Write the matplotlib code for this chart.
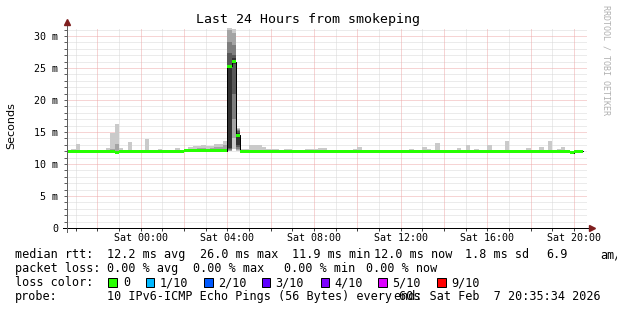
import numpy as np
import matplotlib
matplotlib.use('Agg')
import matplotlib.pyplot as plt
from matplotlib.patches import Rectangle

W, H = 617, 310
MONO = 'DejaVu Sans Mono'

# ---------------- data ----------------
# time axis in hours since graph start (Fri 20:35:34); 12-minute RRA bins
first_bin_h = 26 / 3600.0          # first bin starts 20:36:00
bin_w_h = 0.2                      # 12 minutes
first_hour_h = (24 * 60 + 26) / 3600.0   # 21:00 Fri
x_labels = ['Sat 00:00', 'Sat 04:00', 'Sat 08:00', 'Sat 12:00', 'Sat 16:00', 'Sat 20:00']
y_ticks_ms = [0, 5, 10, 15, 20, 25, 30]
y_labels = ['0', '5 m', '10 m', '15 m', '20 m', '25 m', '30 m']

median_ms = [
    12.0, 12.0, 12.0, 12.0, 12.0, 12.0, 12.0, 12.0, 12.0, 12.0,
    12.0, 11.8, 12.0, 12.0, 12.0, 12.0, 12.0, 12.0, 12.0, 12.0,
    12.0, 12.0, 12.0, 12.0, 12.0, 12.0, 12.0, 12.1, 12.1, 12.1,
    12.1, 12.1, 12.1, 12.1, 12.1, 12.1, 12.1, 25.3, 26.0, 14.5,
    12.0, 12.0, 12.0, 12.0, 12.0, 12.0, 12.0, 12.0, 12.0, 12.0,
    12.0, 12.0, 12.0, 12.0, 12.0, 12.0, 12.0, 12.0, 12.0, 12.0,
    12.0, 12.0, 12.0, 12.0, 12.0, 12.0, 12.0, 12.0, 12.0, 12.0,
    12.0, 12.0, 12.0, 12.0, 12.0, 12.0, 12.0, 12.0, 12.0, 12.0,
    12.0, 12.0, 12.0, 12.0, 12.0, 12.0, 12.0, 12.0, 12.0, 12.0,
    12.0, 12.0, 12.0, 12.0, 12.0, 12.0, 12.0, 12.0, 12.0, 12.0,
    12.0, 12.0, 12.0, 12.0, 12.0, 12.0, 12.0, 12.0, 12.0, 12.0,
    12.0, 12.0, 12.0, 12.0, 12.0, 12.0, 11.75, 12.0, 12.0, np.nan,
]

smoke_max_ms = [
    12.2, 12.3, 13.1, 12.2, 12.2, 12.2, 12.2, 12.2, 12.2, 12.5,
    14.9, 16.25, 12.5, 12.2, 13.4, 12.2, 12.2, 12.2, 13.9, 12.2,
    12.2, 12.3, 12.2, 12.2, 12.2, 12.5, 12.2, 12.3, 12.7, 12.8,
    12.8, 13.0, 12.8, 12.8, 13.1, 13.1, 13.6, 33.0, 31.1, 15.7,
    12.3, 12.3, 13.0, 13.0, 13.0, 12.7, 12.3, 12.3, 12.3, 12.2,
    12.3, 12.3, 12.2, 12.2, 12.2, 12.3, 12.3, 12.3, 12.5, 12.5,
    12.2, 12.2, 12.2, 12.2, 12.2, 12.2, 12.3, 12.7, 12.2, 12.2,
    12.2, 12.1, 12.1, 12.2, 12.2, 12.1, 12.1, 12.2, 12.2, 12.3,
    12.2, 12.2, 12.7, 12.3, 12.2, 13.3, 12.2, 12.2, 12.2, 12.2,
    12.5, 12.2, 13.0, 12.2, 12.3, 12.2, 12.2, 12.9, 12.1, 12.2,
    12.2, 13.6, 12.2, 12.2, 12.1, 12.2, 12.5, 12.2, 12.2, 12.7,
    12.2, 13.6, 12.2, 12.3, 12.7, 12.2, 12.0, 12.2, 12.2, np.nan,
]

smoke_min_ms = [
    11.9, 11.9, 11.9, 11.9, 11.9, 11.9, 11.9, 11.9, 11.9, 11.9,
    11.9, 11.6, 11.9, 11.9, 11.9, 11.9, 11.9, 11.9, 11.9, 11.9,
    11.9, 11.9, 11.9, 11.9, 11.9, 11.9, 11.9, 11.9, 11.9, 11.9,
    11.9, 11.9, 11.9, 11.9, 11.9, 11.9, 11.9, 12.0, 12.3, 12.0,
    11.9, 11.9, 11.9, 11.9, 11.9, 11.9, 11.9, 11.9, 11.9, 11.9,
    11.9, 11.9, 11.9, 11.9, 11.9, 11.9, 11.9, 11.9, 11.9, 11.9,
    11.9, 11.9, 11.9, 11.9, 11.9, 11.9, 11.9, 11.9, 11.9, 11.9,
    11.9, 11.9, 11.9, 11.9, 11.9, 11.9, 11.9, 11.9, 11.9, 11.9,
    11.9, 11.9, 11.9, 11.9, 11.9, 11.9, 11.9, 11.9, 11.9, 11.9,
    11.9, 11.9, 11.9, 11.9, 11.9, 11.9, 11.9, 11.9, 11.9, 11.9,
    11.9, 11.9, 11.9, 11.9, 11.9, 11.9, 11.9, 11.9, 11.9, 11.9,
    11.9, 11.9, 11.9, 11.9, 11.9, 11.9, 11.5, 11.9, 11.9, np.nan,
]

# second smoke layer (ping 2 .. ping 9) where it is visible
smoke_layer2_ms = {
    10: (11.9, 12.3), 11: (11.7, 13.1), 29: (12.0, 12.4), 30: (12.0, 12.5),
    31: (12.0, 12.5), 32: (12.0, 12.4), 33: (12.0, 12.5), 34: (12.0, 12.7),
    35: (12.0, 12.7), 36: (12.0, 12.9), 116: (11.6, 12.0),
}

# all ten sorted pings for the latency spike around 04:00
spike_pings_ms = {
    37: [12.0, 12.1, 12.2, 12.3, 12.5, 25.5, 27.3, 29.1, 30.9, 33.0],
    38: [12.3, 14.0, 17.0, 21.0, 25.6, 26.6, 27.0, 28.6, 30.5, 31.1],
    39: [12.0, 12.2, 12.4, 12.6, 13.0, 14.8, 15.1, 15.3, 15.5, 15.7],
}

legend_rtt = [('median rtt:', 15), ('12.2 ms avg', 107), ('26.0 ms max', 200.5),
              ('11.9 ms min', 292.5), ('12.0 ms now', 374.5), ('1.8 ms sd', 465),
              ('6.9', 546), ('am/s', 600)]
legend_loss = [('packet loss:', 15), ('0.00 % avg', 107), ('0.00 % max', 193),
               ('0.00 % min', 284), ('0.00 % now', 366)]
loss_labels = ['0', '1/10', '2/10', '3/10', '4/10', '5/10', '9/10']
loss_colors = ['#26ff00', '#00b8ff', '#0059ff', '#5e00ff', '#7e00ff', '#dd00ff', '#ff0000']
loss_box_x = [108.3, 145.7, 204, 261.8, 320.9, 378, 437]
loss_label_x = [122.8, 159.4, 217.7, 275.6, 333.9, 391.7, 450.8]

smoke_shades = ['#cacaca', '#a4a4a4', '#7e7e7e', '#585858', '#323232']
# --------------------------------------

fig = plt.figure(figsize=(W / 100, H / 100), dpi=100)
fig.patch.set_facecolor('white')
ax = fig.add_axes([67 / W, (H - 228) / H, 520 / W, 200 / H])
ax.set_facecolor('white')
ax.set_xlim(0, 24)
ymax = 31.25
ax.set_ylim(0, ymax)
for s in ax.spines.values():
    s.set_visible(False)

px = 0.72  # one pixel in points
LEG = 8.45
# grid
hours = first_hour_h + np.arange(24)
for k, h in enumerate(hours):
    major = (k % 2 == 1)
    ax.axvline(h, color='#eeaaaa' if major else '#d8d8d8', lw=px,
               ls=(0, (1, 1)), zorder=0.5 if major else 0.4)
for v in range(1, 32):
    major = (v % 5 == 0)
    ax.axhline(v, color='#eeaaaa' if major else '#d8d8d8', lw=px,
               ls=(0, (1, 1)), zorder=0.5 if major else 0.4)

n = len(median_ms)
left = first_bin_h + np.arange(n) * bin_w_h
med = np.array(median_ms, dtype=float)
smax = np.array(smoke_max_ms, dtype=float)
smin = np.array(smoke_min_ms, dtype=float)

normal = np.array([i not in spike_pings_ms for i in range(n)])
ax.bar(left[normal], (smax - smin)[normal], bottom=smin[normal], width=bin_w_h,
       align='edge', color=smoke_shades[0], linewidth=0, zorder=1)
l2_idx = sorted(smoke_layer2_ms)
ax.bar(left[l2_idx], [smoke_layer2_ms[i][1] - smoke_layer2_ms[i][0] for i in l2_idx],
       bottom=[smoke_layer2_ms[i][0] for i in l2_idx], width=bin_w_h, align='edge',
       color=smoke_shades[1], linewidth=0, zorder=1.1)
for i, pings in spike_pings_ms.items():
    for j in range(5):
        lo, hi = pings[j], pings[9 - j]
        ax.bar(left[i], hi - lo, bottom=lo, width=bin_w_h, align='edge',
               color=smoke_shades[j], linewidth=0, zorder=1.2 + j * 0.01)

xs = np.append(left, left[-1] + bin_w_h)
ys = np.append(med, med[-1])
ax.step(xs, ys, where='post', color='black', lw=px, zorder=2)
band = 3 * ymax / 200
ax.bar(left, band, bottom=med - band / 2, width=bin_w_h, align='edge',
       color=loss_colors[0], linewidth=0, zorder=3)

# axes lines and arrows
ax.plot([-4 / 520, 1 + 2 / 520], [0, 0], transform=ax.transAxes, color='black',
        lw=px, clip_on=False, zorder=5)
ax.plot([0, 0], [-4 / 200, 1 + 2 / 200], transform=ax.transAxes, color='#606060',
        lw=px, clip_on=False, zorder=5)
ax.plot([1 + 5 / 520], [0], transform=ax.transAxes, marker='>', ms=4.5,
        color='#7f1f1f', mec='#7f1f1f', clip_on=False, zorder=6)
ax.plot([0], [1 + 6 / 200], transform=ax.transAxes, marker='^', ms=4.5,
        color='#7f1f1f', mec='#7f1f1f', clip_on=False, zorder=6)

label_hours = [first_hour_h + 3 + 4 * i for i in range(len(x_labels))]
ax.set_xticks(label_hours)
ax.set_xticklabels(x_labels, fontfamily=MONO, fontsize=7.2)
ax.set_xticks(hours, minor=True)
ax.tick_params(axis='x', which='both', length=2.5, width=px, color='#404040',
               pad=1.2, direction='out')
ax.set_yticks(y_ticks_ms)
ax.set_yticklabels(y_labels, fontfamily=MONO, fontsize=7.2)
ax.set_yticks(range(0, 32), minor=True)
ax.tick_params(axis='y', which='both', length=2.5, width=px, color='#606060',
               pad=4, direction='out')

fig.text(308 / W, 1 - 19 / H, 'Last 24 Hours from smokeping', ha='center', va='center',
         fontfamily=MONO, fontsize=9.5)
fig.text(11 / W, 1 - 126 / H, 'Seconds', rotation=90, ha='center', va='center',
         fontfamily='DejaVu Sans', fontsize=8)
fig.text(606 / W, 1 - 60 / H, 'RRDTOOL / TOBI OETIKER', rotation=270, ha='center',
         va='center', fontfamily=MONO, fontsize=6, color='#b0b0b0')

def row(items, yc):
    for txt, x in items:
        fig.text(x / W, 1 - yc / H, txt, ha='left', va='center', fontfamily=MONO,
                 fontsize=LEG)

row(legend_rtt, 254.5)
row(legend_loss, 268.5)
row([('loss color:', 15)], 282.5)
for lab, col, bx, lx in zip(loss_labels, loss_colors, loss_box_x, loss_label_x):
    fig.add_artist(Rectangle((bx / W, 1 - 286.8 / H), 8.5 / W, 8.5 / H,
                             transform=fig.transFigure, facecolor=col,
                             edgecolor='black', lw=px))
    fig.text(lx / W, 1 - 282.5 / H, lab, ha='left', va='center',
             fontfamily=MONO, fontsize=LEG)
row([('probe:', 15), ('10 IPv6-ICMP Echo Pings (56 Bytes) every 60s', 107)], 296.5)
fig.text(600.5 / W, 1 - 296.5 / H, 'end: Sat Feb  7 20:35:34 2026', ha='right',
         va='center', fontfamily=MONO, fontsize=LEG)

fig.savefig('out.png', dpi=100, facecolor='white')
